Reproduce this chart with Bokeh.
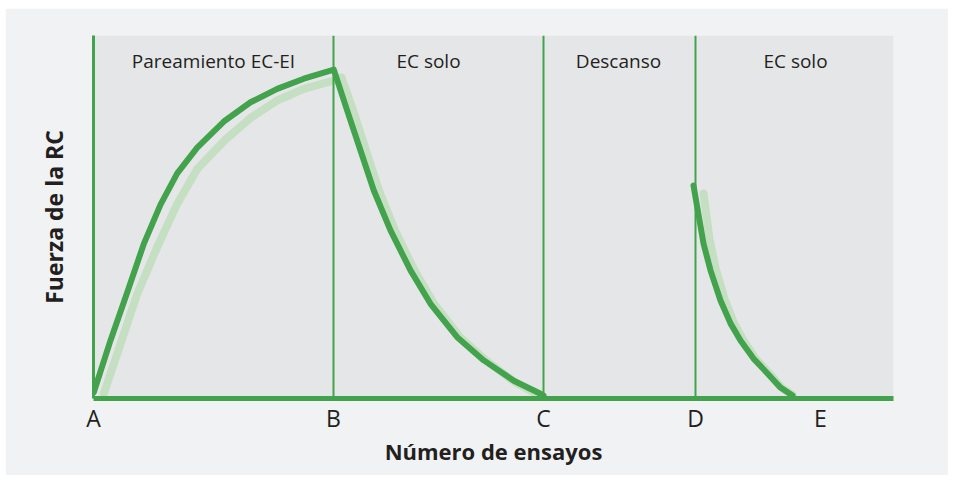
import math
from bokeh.plotting import figure
from bokeh.models import Range1d, FixedTicker, Span, Spacer, Title
from bokeh.layouts import column, row
from bokeh.core.properties import value
from bokeh.embed import file_html
from bokeh.resources import INLINE

# ---- data ----
tick_pos = [0, 240, 450, 602, 727]
tick_labels = ["A", "B", "C", "D", "E"]

# acquisition (dark) and its pale shadow
acq_x = [0.3, 17, 33.7, 50.3, 67, 83.7, 103.7, 130.3, 157, 183.7, 210.3, 240.3]
acq_y = [1.7, 16, 29.2, 42.6, 53.4, 62.0, 69.1, 76.3, 81.6, 85.3, 88.1, 90.6]
acq_pale_x = [10.3, 27, 43.7, 63.7, 83.7, 103.7, 130.3, 157, 183.7, 210.3, 240.3, 248]
acq_pale_y = [1.3, 15, 28.8, 41.7, 53.6, 63.2, 70.9, 77.3, 82.1, 85.3, 87.6, 88.4]

# extinction (dark) and shadow
ext_x = [240.3, 253.7, 267, 280.3, 297, 317, 337, 363.7, 390.3, 420.3, 447, 450]
ext_y = [90.6, 79.3, 68.3, 57.3, 46.3, 35.3, 26.1, 16.9, 10.5, 4.9, 1.3, 0.8]
ext_pale_x = [248, 259.7, 272.5, 285.5, 301.5, 321, 340.5, 366.5, 392.5, 421.5, 446]
ext_pale_y = [88.4, 79.3, 68.3, 57.3, 46.3, 35.3, 26.1, 16.9, 10.5, 4.5, 0.8]

# spontaneous recovery (dark) and shadow
rec_x = [600, 610, 617, 627, 637, 647, 660, 674, 687, 699]
rec_y = [58.7, 42.7, 35.3, 27, 20.7, 16, 11, 6.9, 3, 0.8]
rec_pale_x = [610, 616, 622, 631, 640, 650, 662, 676, 688, 699]
rec_pale_y = [56.5, 44, 36, 27.5, 21, 16, 11, 6.9, 3, 1]

divider_x = [240, 450, 602]
region_labels = ["Pareamiento EC-EI", "EC solo", "Descanso", "EC solo"]
region_x = [120, 335, 525, 702]
region_y = [93, 93, 93, 93]

GREEN = "#43a24c"
PALE = "#c5dfc2"
TEXT = "#231f20"
FONT = "Open Sans"

p = figure(width=943, height=467, x_range=Range1d(0, 800), y_range=Range1d(0, 100),
           output_backend="svg", toolbar_location=None,
           min_border_left=88, min_border_right=55, min_border_top=27, min_border_bottom=77)
p.background_fill_color = "#e5e6e8"
p.border_fill_color = "#f1f2f4"
p.outline_line_color = None
p.grid.visible = False

# x axis
xa = p.xaxis[0]
xa.ticker = FixedTicker(ticks=tick_pos)
xa.major_label_overrides = {t: l for t, l in zip(tick_pos, tick_labels)}
xa.major_tick_line_color = None
xa.minor_tick_line_color = None
xa.axis_line_color = GREEN
xa.axis_line_width = 5
xa.major_label_text_font = FONT
xa.major_label_text_font_size = "23px"
xa.major_label_text_color = TEXT
xa.major_label_standoff = -3
xa.axis_label = "Número de ensayos"
xa.axis_label_text_font = FONT
xa.axis_label_text_font_style = "bold"
xa.axis_label_text_font_size = "22px"
xa.axis_label_text_color = TEXT
xa.axis_label_standoff = -1

# y axis (line only; title placed as a side title)
ya = p.yaxis[0]
ya.ticker = FixedTicker(ticks=[])
ya.major_tick_line_color = None
ya.minor_tick_line_color = None
ya.axis_line_color = GREEN
ya.axis_line_width = 3
ya.major_label_text_font_size = "0px"

p.add_layout(Title(text="Fuerza de la RC", align="center", offset=-32, standoff=47,
                   text_font=FONT, text_font_style="bold", text_font_size="23px",
                   text_color=TEXT), "left")

for dx in divider_x:
    p.add_layout(Span(location=dx, dimension="height", line_color=GREEN, line_width=2))

for xs, ys in [(acq_pale_x, acq_pale_y), (ext_pale_x, ext_pale_y), (rec_pale_x, rec_pale_y)]:
    p.line(xs, ys, line_color=PALE, line_width=8, line_cap="round", line_join="round")
p.line(acq_x + ext_x[1:], acq_y + ext_y[1:], line_color=GREEN, line_width=6,
       line_cap="round", line_join="round")
p.line(rec_x, rec_y, line_color=GREEN, line_width=6, line_cap="round", line_join="round")

p.text(x=region_x, y=region_y, text=region_labels, text_font=value(FONT),
       text_font_size="19px", text_color=TEXT, text_align="center", text_baseline="middle")

layout = column(Spacer(height=8), row(Spacer(width=5), p))
open("out.html", "w").write(file_html(layout, INLINE))
